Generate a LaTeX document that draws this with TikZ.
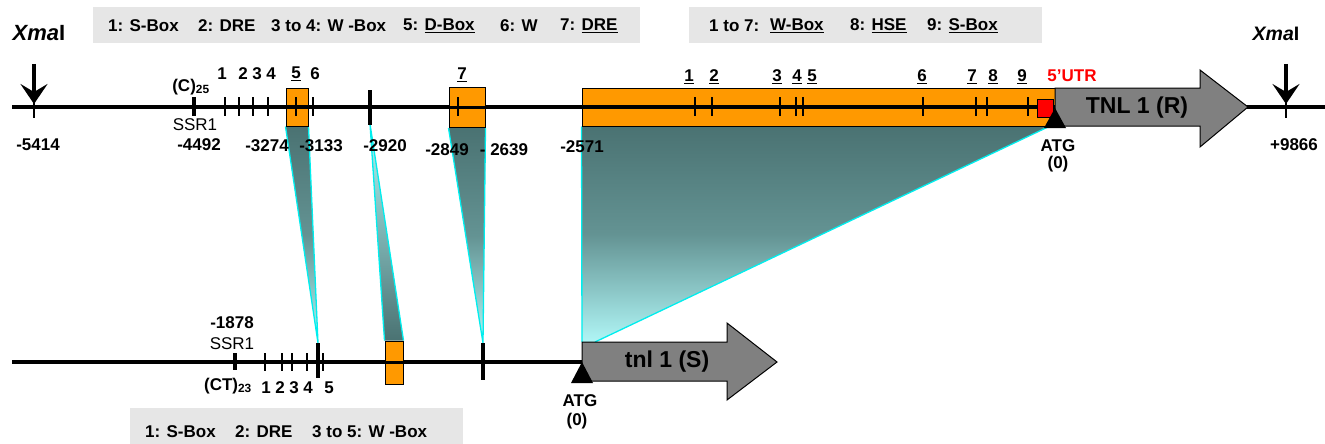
\documentclass[tikz,border=0pt]{standalone}
\usepackage{fontspec}
\setmainfont{Liberation Sans}
\usetikzlibrary{arrows.meta}
\newcommand\sz[1]{\fontsize{#1}{#1}\selectfont}
\definecolor{boxorange}{RGB}{255,153,0}
\definecolor{legendgray}{RGB}{230,230,230}
\definecolor{genegray}{RGB}{128,128,128}
\definecolor{tealdark}{RGB}{74,114,114}
\definecolor{teallight}{RGB}{176,246,246}
\definecolor{edgecyan}{RGB}{0,238,238}
\definecolor{utrred}{RGB}{255,0,0}
\begin{document}
\begin{tikzpicture}[x=1pt,y=-1pt,
  txt/.style={inner sep=0pt, font=\bfseries\sz{17}},
  plain/.style={inner sep=0pt, font=\sz{17}},
  mainline/.style={line width=3.2pt},
  smalltick/.style={line width=1.2pt},
  bigtick/.style={line width=3.8pt},
  orangebox/.style={draw=black, fill=boxorange, line width=1pt, inner sep=0pt},
  cyanedge/.style={draw=edgecyan, line width=1.3pt},
  darktop/.style={top color=tealdark, bottom color=teallight, middle color=tealdark!75!teallight},
  lighttop/.style={top color=teallight, bottom color=tealdark},
  gene/.style={draw=black, fill=genegray, line width=1pt, line join=miter},
  atg/.style={fill=black},
  xarrow/.style={line width=3.6pt, -{Stealth[length=20pt, width=27pt, inset=8pt]}},
]
\useasboundingbox (0,0) rectangle (1325,444);

% ---------- legends ----------
\fill[legendgray] (93,7) rectangle (640,43);
\fill[legendgray] (689,7) rectangle (1042,43);
\fill[legendgray] (130,408) rectangle (463,444);
\node[txt, anchor=west] (la1) at (108,26) {1: S-Box};
\node[txt, anchor=west] (la2) at (198,26) {2: DRE};
\node[txt, anchor=west] (la3) at (271,26) {3 to 4: W -Box};
\node[txt, anchor=west] (la4) at (403,26) {5: \underline{D-Box}};
\node[txt, anchor=west] (la5) at (500,26) {6: W};
\node[txt, anchor=west] (la6) at (560,26) {7: \underline{DRE}};
\node[txt, anchor=west] (lb1) at (709,26) {1 to 7:};
\node[txt, anchor=west] (lb2) at (770,26) {\underline{W-Box}};
\node[txt, anchor=west] (lb3) at (850,26) {8: \underline{HSE}};
\node[txt, anchor=west] (lb4) at (927,26) {9: \underline{S-Box}};
\node[txt, anchor=west] (lc1) at (145,432) {1: S-Box};
\node[txt, anchor=west] (lc2) at (235,432) {2: DRE};
\node[txt, anchor=west] (lc3) at (312,432) {3 to 5: W -Box};

% ---------- anchor points ----------
\coordinate (s5) at (318,343);
\coordinate (k2) at (370,124);
\coordinate (k7) at (483,343);
\coordinate (bigR) at (1050,126);
\coordinate (bigD) at (595,342);
\coordinate (bigL) at (582,342);

% ---------- boxes (placed first so the shading can refer to them) ----------
\node[orangebox, minimum width=22pt, minimum height=38pt] (b5) at (297,107) {};
\node[orangebox, minimum width=36pt, minimum height=40pt] (b7) at (467,107.5) {};
\node[orangebox, minimum width=473pt, minimum height=38pt] (big) at (818.5,107) {};
\node[orangebox, minimum width=18pt, minimum height=43pt] (bb) at (394,362.5) {};

% ---------- shaded correspondences ----------
\shade[darktop] (b5.south west) -- (b5.south east) -- (s5) -- cycle;
\draw[cyanedge] (b5.south west) -- (s5) -- (b5.south east);
\shade[lighttop] (k2) -- (bb.north east) -- (bb.north west) -- cycle;
\draw[cyanedge] (bb.north west) -- (k2) -- (bb.north east);
\shade[darktop] (b7.south west) -- (b7.south east) -- (k7) -- cycle;
\draw[cyanedge] (b7.south west) -- (k7) -- (b7.south east);
\shade[darktop] (big.south west) -- (bigR) -- (bigD) -- (bigL) -- cycle;
\draw[cyanedge] (big.south west) -- (bigL);
\draw[cyanedge] (bigR) -- (bigD);

% ---------- chromosome lines ----------
\draw[mainline] (12,107) -- (1325,107);
\draw[mainline] (12,362) -- (582,362);

% redraw boxes above the lines
\node[orangebox, minimum width=22pt, minimum height=38pt] (b5t) at (297,107) {};
\node[orangebox, minimum width=36pt, minimum height=40pt] (b7t) at (467,107.5) {};
\node[orangebox, minimum width=473pt, minimum height=38pt] (bigt) at (818.5,107) {};
\node[orangebox, minimum width=18pt, minimum height=43pt] (bbt) at (394,362.5) {};
\draw[mainline] (b5t.west) -- (b5t.east);
\draw[mainline] (b7t.west) -- (b7t.east);
\draw[mainline] (bigt.west) -- (bigt.east);
\draw[mainline] (bbt.west) -- (bbt.east);

% ---------- ticks, upper line ----------
\draw[bigtick] (194,97) -- (194,116);
\foreach \x in {225,239,253,268,296,313}
  \draw[smalltick] (\x,97) -- (\x,116);
\draw[bigtick] (370,90) -- (370,125);
\draw[smalltick] (458,97) -- (458,116);
\foreach \x in {695,712,780,796,803,923,976,987,1028}
  \draw[smalltick] (\x,97) -- (\x,116);

% ---------- ticks, lower line ----------
\draw[bigtick] (235,353) -- (235,370);
\foreach \x in {265,282,292,307,323}
  \draw[smalltick] (\x,353) -- (\x,371);
\draw[bigtick] (318,343) -- (318,378);
\draw[bigtick] (483,343) -- (483,380);

% ---------- 5'UTR ----------
\node[draw=black, fill=utrred, line width=0.8pt, minimum width=16pt, minimum height=18pt, inner sep=0pt] (utr) at (1045,108) {};

% ---------- genes ----------
\draw[gene] (1055,88) -- (1200,88) -- (1200,70) -- (1248,107) -- (1200,147) -- (1200,126) -- (1055,126) -- cycle;
\node[inner sep=0pt, font=\bfseries\sz{23}] (tnlR) at (1137,108) {TNL 1 (R)};
\draw[gene] (582,342) -- (727,342) -- (727,323) -- (777,362) -- (727,400) -- (727,381) -- (582,381) -- cycle;
\node[inner sep=0pt, font=\bfseries\sz{23}] (tnlS) at (667,362) {tnl 1 (S)};

% ---------- start codons ----------
\fill[atg] (1055,108) -- (1066,128) -- (1044,128) -- cycle;
\fill[atg] (582,362) -- (593,383) -- (571,383) -- cycle;

% ---------- XmaI sites ----------
\draw[xarrow] (34,64) -- (34,104);
\draw[smalltick] (34,100) -- (34,118);
\draw[xarrow] (1286,64) -- (1286,104);
\draw[smalltick] (1286,100) -- (1286,118);
\node[inner sep=0pt, font=\bfseries\sz{22}] (xl) at (39,33) {\textit{Xma}I};
\node[inner sep=0pt, font=\bfseries\sz{19.5}] (xr) at (1276,34) {\textit{Xma}I};

% ---------- upper labels ----------
\node[txt] (p5414) at (38,145) {-5414};
\node[txt] (c25) at (191,87) {(C)\textsubscript{25}};
\node[plain] (ssr1) at (195,125) {SSR1};
\node[txt] (p4492) at (199,145) {-4492};
\node[txt] (u1) at (222,74) {1};
\node[txt] (u2) at (243,74) {2};
\node[txt] (u3) at (257,74) {3};
\node[txt] (u4) at (271,74) {4};
\node[txt] (u5) at (296,74) {\underline{5}};
\node[txt] (u6) at (315,74) {6};
\node[txt] (p3274) at (267,146) {-3274};
\node[txt] (p3133) at (321,146) {-3133};
\node[txt] (p2920) at (385,146) {-2920};
\node[txt] (u7) at (462,75) {\underline{7}};
\node[txt] (p2849) at (447,150) {-2849};
\node[txt] (p2639) at (504,150) {- 2639};
\node[txt] (p2571) at (582,147) {-2571};
\node[txt] (w1) at (689,77) {\underline{1}};
\node[txt] (w2) at (714,77) {\underline{2}};
\node[txt] (w3) at (777,77) {\underline{3}};
\node[txt] (w4) at (797,77) {\underline{4}};
\node[txt] (w5) at (812,77) {\underline{5}};
\node[txt] (w6) at (922,77) {\underline{6}};
\node[txt] (w7) at (972,77) {\underline{7}};
\node[txt] (w8) at (993,77) {\underline{8}};
\node[txt] (w9) at (1022,77) {\underline{9}};
\node[txt, text=utrred] (utrlbl) at (1072,76) {5'UTR};
\node[txt] (atgR) at (1058,146) {ATG};
\node[txt] (zeroR) at (1058,164) {(0)};
\node[txt] (p9866) at (1294,145) {+9866};

% ---------- lower labels ----------
\node[txt] (p1878) at (232,323) {-1878};
\node[plain] (ssr1b) at (232,344) {SSR1};
\node[txt] (ct23) at (228,386) {(CT)\textsubscript{23}};
\node[txt] (d1) at (266,388) {1};
\node[txt] (d2) at (280,388) {2};
\node[txt] (d3) at (294,388) {3};
\node[txt] (d4) at (308,388) {4};
\node[txt] (d5) at (329,388) {5};
\node[txt] (atgS) at (580,401) {ATG};
\node[txt] (zeroS) at (577,421) {(0)};
\end{tikzpicture}
\end{document}
